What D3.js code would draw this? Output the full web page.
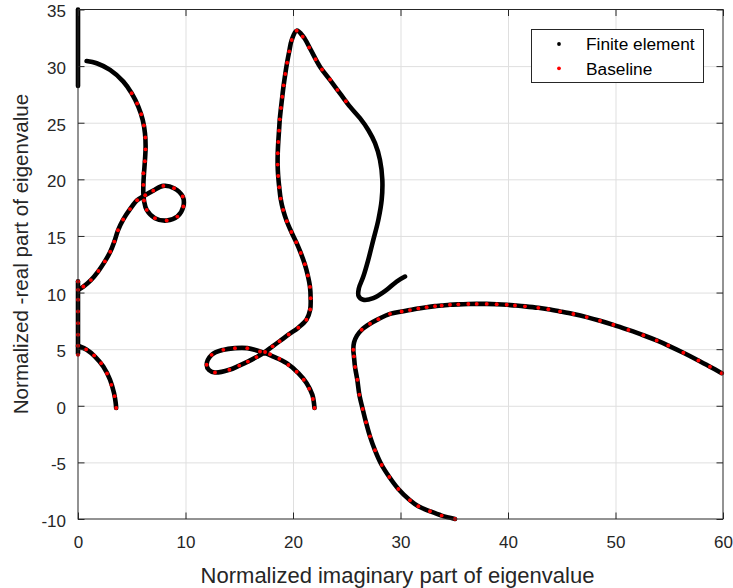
<!DOCTYPE html>
<html>
<head>
<meta charset="utf-8">
<script src="https://cdn.jsdelivr.net/npm/d3@7"></script>
<style>
  html, body { margin: 0; padding: 0; background: #fff; }
  svg { display: block; font-family: "Liberation Sans", Arial, Helvetica, sans-serif; }
</style>
</head>
<body>
<svg id="chart" width="733" height="588"></svg>
<script>
// Axis ticks
const xTicks = [0, 10, 20, 30, 40, 50, 60];
const yTicks = [-10, -5, 0, 5, 10, 15, 20, 25, 30, 35];

// Finite element eigenvalue loci, [imaginary, -real] (normalized)
const feAxisUpper = [[0, 28.25], [0, 35.0]];
const feAxisMiddle = [[0, 11.0], [0, 4.6]];
const feLeftLoop = [
  [0.8, 30.45], [1.74, 30.25], [2.98, 29.66], [4.22, 28.63], [4.99, 27.6], [5.61, 26.42],
  [6.02, 25.25], [6.23, 24.07], [6.29, 22.89], [6.23, 21.72], [6.14, 20.54], [6.08, 19.51],
  [6.08, 18.7], [6.14, 18.13], [6.39, 17.3], [7.16, 16.57], [8.25, 16.36], [9.24, 16.71],
  [9.8, 17.6], [9.74, 18.48], [8.93, 19.22], [7.94, 19.42], [7.0, 19.0], [6.25, 18.6],
  [5.5, 18.15], [4.84, 17.37], [4.2, 16.45], [3.72, 15.5], [3.38, 14.5], [3.0, 13.6],
  [2.5, 12.75], [1.9, 11.9], [1.2, 11.1], [0.5, 10.53], [0.03, 10.25]
];
const feLeftLower = [
  [0.0, 5.3], [0.81, 4.95], [1.58, 4.35], [2.35, 3.47], [2.98, 2.3], [3.35, 1.12], [3.5, 0.3], [3.55, -0.2]
];
const feCentral = [
  [30.42, 11.41], [29.64, 10.97], [28.71, 10.24], [27.47, 9.51], [26.54, 9.36], [26.1, 9.7],
  [26.12, 10.35], [26.54, 11.41], [27.0, 12.89], [27.47, 14.65], [27.94, 16.42], [28.25, 18.19],
  [28.31, 19.95], [28.09, 21.72], [27.63, 23.19], [27.0, 24.36], [26.23, 25.4], [25.3, 26.42],
  [24.37, 27.6], [23.44, 28.78], [22.51, 29.95], [21.58, 31.57], [20.96, 32.6], [20.34, 33.13],
  [19.88, 32.3], [19.65, 31.3], [19.45, 30.3], [19.28, 29.3], [19.13, 28.3], [19.0, 27.3],
  [18.88, 26.3], [18.77, 25.3], [18.7, 24.3], [18.63, 23.3], [18.58, 22.3], [18.57, 21.3],
  [18.62, 20.3], [18.72, 19.3], [18.85, 18.3], [19.08, 17.3], [19.42, 16.3], [19.85, 15.35],
  [20.3, 14.45], [20.72, 13.5], [21.1, 12.5], [21.38, 11.5], [21.58, 10.5], [21.64, 9.5],
  [21.6, 8.5], [21.25, 7.6], [20.5, 6.9], [19.6, 6.3], [18.75, 5.7], [18.1, 5.25],
  [17.4, 4.75], [16.6, 4.3], [15.8, 3.9], [15.0, 3.55], [14.08, 3.18], [12.74, 2.94],
  [12.2, 3.15], [11.97, 3.62], [12.43, 4.5], [13.52, 4.94], [14.6, 5.09], [15.75, 5.09],
  [16.93, 4.8], [18.17, 4.35], [19.41, 3.77], [20.5, 2.89], [21.27, 2.0], [21.8, 0.97],
  [22.0, -0.2]
];
const feRight = [
  [35.07, -9.99], [33.83, -9.7], [32.74, -9.32], [31.66, -8.88], [30.88, -8.35], [29.8, -7.35],
  [28.96, -6.29], [28.25, -5.23], [27.63, -3.93], [27.16, -2.7], [26.79, -1.46], [26.48, -0.29],
  [26.17, 0.98], [25.98, 2.3], [25.77, 3.42], [25.67, 4.36], [25.61, 4.95], [25.68, 5.6],
  [25.95, 6.2], [26.39, 6.71], [27.16, 7.24], [27.94, 7.65], [29.02, 8.12], [30.11, 8.33],
  [30.88, 8.45], [31.66, 8.6], [32.43, 8.71], [33.21, 8.8], [33.83, 8.85], [34.6, 8.92],
  [35.38, 8.96], [36.31, 8.99], [37.09, 9.0], [38.02, 9.0], [38.95, 8.97], [39.88, 8.92],
  [40.65, 8.86], [41.58, 8.78], [42.82, 8.65], [43.75, 8.52], [44.84, 8.33], [46.08, 8.1],
  [47.32, 7.83], [48.56, 7.51], [49.8, 7.15], [51.2, 6.7], [52.59, 6.23], [53.83, 5.77],
  [54.91, 5.32], [56.31, 4.68], [57.71, 4.0], [58.79, 3.45], [59.88, 2.88]
];

// Baseline eigenvalues, [imaginary, -real] (normalized)
const blLeftLoop = [
  [4.99, 27.6], [5.5, 26.7], [5.88, 25.75], [6.13, 24.75], [6.26, 23.7], [6.28, 22.65],
  [6.22, 21.6], [6.08, 20.54], [6.08, 19.51], [6.14, 18.13], [6.39, 17.3], [7.16, 16.57],
  [8.25, 16.36], [9.24, 16.71], [9.8, 17.6], [9.74, 18.48], [8.93, 19.22], [7.94, 19.42],
  [7.0, 19.0], [6.25, 18.6], [5.5, 18.15], [4.84, 17.37], [4.2, 16.45], [3.72, 15.5],
  [3.38, 14.5], [3.0, 13.6], [2.5, 12.75], [1.9, 11.9], [1.2, 11.1], [0.5, 10.53]
];
const blAxis = [[0, 10.97], [0, 10.24], [0, 9.36], [0, 8.33], [0, 7.3], [0, 6.27], [0, 5.3], [0, 4.5]];
const blLeftLower = [[0.75, 4.98], [1.5, 4.45], [2.15, 3.75], [2.7, 2.85], [3.1, 1.85], [3.4, 0.85], [3.55, -0.2]];
const blCentral = [
  [24.92, 26.9], [24.13, 27.9], [23.45, 28.82], [22.7, 29.7], [22.1, 30.6], [21.5, 31.65],
  [20.9, 32.6], [20.34, 33.13],
  [19.88, 32.3], [19.65, 31.3], [19.45, 30.3], [19.28, 29.3], [19.13, 28.3], [19.0, 27.3],
  [18.88, 26.3], [18.77, 25.3], [18.7, 24.3], [18.63, 23.3], [18.58, 22.3], [18.57, 21.3],
  [18.62, 20.3], [18.72, 19.3], [18.85, 18.3], [19.08, 17.3], [19.42, 16.3], [19.85, 15.35],
  [20.3, 14.45], [20.72, 13.5], [21.1, 12.5], [21.38, 11.5], [21.58, 10.5], [21.64, 9.5],
  [21.6, 8.5], [21.25, 7.6], [20.5, 6.9], [19.6, 6.3], [18.75, 5.7], [18.1, 5.25],
  [17.4, 4.75], [16.6, 4.3], [15.8, 3.9], [15.0, 3.55], [14.08, 3.18], [12.74, 2.94],
  [11.97, 3.62], [12.43, 4.5], [13.52, 4.94], [14.6, 5.09], [15.75, 5.09], [16.93, 4.8],
  [17.86, 4.55], [18.73, 4.15], [19.57, 3.6], [20.34, 3.0], [21.0, 2.3], [21.5, 1.5],
  [21.85, 0.6], [22.0, -0.2]
];
const blRight = [
  [35.07, -9.99], [33.83, -9.7], [32.74, -9.32], [31.66, -8.88], [30.88, -8.35], [29.8, -7.35],
  [28.96, -6.29], [28.25, -5.23], [27.63, -3.93], [27.16, -2.7], [26.79, -1.46], [26.48, -0.29],
  [26.17, 0.98], [25.98, 2.3], [25.77, 3.42], [25.67, 4.36], [25.61, 4.95],
  [26.39, 6.71], [27.16, 7.24], [27.94, 7.65], [29.02, 8.12], [30.11, 8.33],
  [30.88, 8.45], [31.66, 8.6], [32.43, 8.71], [33.21, 8.8], [33.83, 8.85], [34.6, 8.92],
  [35.38, 8.96], [36.31, 8.99], [37.09, 9.0], [38.02, 9.0], [38.95, 8.97], [39.88, 8.92],
  [40.65, 8.86], [41.58, 8.78], [42.82, 8.65], [43.75, 8.52], [44.84, 8.33], [46.08, 8.1],
  [47.32, 7.83], [48.56, 7.51], [49.8, 7.15], [51.2, 6.7], [52.59, 6.23], [53.83, 5.77],
  [54.91, 5.32], [56.31, 4.68], [57.71, 4.0], [58.79, 3.45], [59.88, 2.88]
];

const seriesNames = ["Finite element", "Baseline"];
const xLabel = "Normalized imaginary part of eigenvalue";
const yLabel = "Normalized -real part of eigenvalue";

const feBranches = [feAxisUpper, feAxisMiddle, feLeftLoop, feLeftLower, feCentral, feRight];
const blBranches = [blLeftLoop, blAxis, blLeftLower, blCentral, blRight];

const INK = "#262626";
const GRID = "#dfdfdf";
const plot = { left: 78, right: 723, top: 9.5, bottom: 519 };
const plotH = plot.bottom - plot.top;
const plotW = plot.right - plot.left;

const x = d3.scaleLinear().domain([0, 60]).range([plot.left, plot.right]);
const y = d3.scaleLinear().domain([-10, 35]).range([plot.bottom, plot.top]);

const svg = d3.select("#chart");

// grid lines
svg.append("g")
  .attr("transform", `translate(0,${plot.bottom})`)
  .call(d3.axisBottom(x).tickValues(xTicks.slice(1, -1)).tickSize(-plotH).tickFormat(""))
  .call(g => g.select(".domain").remove())
  .call(g => g.selectAll("line").attr("stroke", GRID).attr("stroke-width", 1));
svg.append("g")
  .attr("transform", `translate(${plot.left},0)`)
  .call(d3.axisLeft(y).tickValues(yTicks.slice(1, -1)).tickSize(-plotW).tickFormat(""))
  .call(g => g.select(".domain").remove())
  .call(g => g.selectAll("line").attr("stroke", GRID).attr("stroke-width", 1));

// finite element loci (dense markers rendered as a thick trace)
const trace = d3.line()
  .x(d => x(d[0]))
  .y(d => y(d[1]))
  .curve(d3.curveCatmullRom.alpha(0.5));
svg.append("g")
  .selectAll("path")
  .data(feBranches)
  .join("path")
  .attr("d", trace)
  .attr("fill", "none")
  .attr("stroke", "#000")
  .attr("stroke-width", 4.6)
  .attr("stroke-linecap", "round")
  .attr("stroke-linejoin", "round");

// baseline markers
svg.append("g")
  .selectAll("circle")
  .data(blBranches.flat())
  .join("circle")
  .attr("cx", d => x(d[0]))
  .attr("cy", d => y(d[1]))
  .attr("r", 1.95)
  .attr("fill", "#ff0000");

// axes box with inward ticks on all sides
const tickLen = 6.5;
const plain = d => String(d);
function styleAxis(g) {
  g.select(".domain").remove();
  g.selectAll(".tick line").attr("stroke", INK).attr("stroke-width", 1);
  g.selectAll(".tick text").attr("fill", INK).attr("font-size", 17)
    .attr("font-family", "'Liberation Sans', Arial, Helvetica, sans-serif");
}
svg.append("g")
  .attr("transform", `translate(0,${plot.bottom})`)
  .call(d3.axisBottom(x).tickValues(xTicks).tickFormat(plain).tickSizeInner(-tickLen).tickSizeOuter(0).tickPadding(17))
  .call(styleAxis);
svg.append("g")
  .attr("transform", `translate(0,${plot.top})`)
  .call(d3.axisTop(x).tickValues(xTicks).tickSizeInner(-tickLen).tickSizeOuter(0).tickFormat(""))
  .call(styleAxis);
svg.append("g")
  .attr("transform", `translate(${plot.left},0)`)
  .call(d3.axisLeft(y).tickValues(yTicks).tickFormat(plain).tickSizeInner(-tickLen).tickSizeOuter(0).tickPadding(12))
  .call(styleAxis)
  .call(g => g.selectAll(".tick text").attr("dy", "0.44em"));
svg.append("g")
  .attr("transform", `translate(${plot.right},0)`)
  .call(d3.axisRight(y).tickValues(yTicks).tickSizeInner(-tickLen).tickSizeOuter(0).tickFormat(""))
  .call(styleAxis);
svg.append("rect")
  .attr("x", plot.left).attr("y", plot.top)
  .attr("width", plotW).attr("height", plotH)
  .attr("fill", "none").attr("stroke", INK).attr("stroke-width", 1);

// axis titles
svg.append("text")
  .attr("x", (plot.left + plot.right) / 2 - 3)
  .attr("y", 583)
  .attr("text-anchor", "middle")
  .attr("font-size", 22)
  .attr("fill", INK)
  .text(xLabel);
svg.append("text")
  .attr("transform", `translate(28,254) rotate(-90)`)
  .attr("text-anchor", "middle")
  .attr("font-size", 20.6)
  .attr("fill", INK)
  .text(yLabel);

// legend
const legend = svg.append("g");
legend.append("rect")
  .attr("x", 531.5).attr("y", 29.5)
  .attr("width", 172).attr("height", 53)
  .attr("fill", "#fff").attr("stroke", INK).attr("stroke-width", 1);
const legendColors = ["#000", "#ff0000"];
const legendRows = legend.selectAll("g.row")
  .data(seriesNames)
  .join("g")
  .attr("class", "row")
  .attr("transform", (d, i) => `translate(0,${44 + i * 24.3})`);
legendRows.append("circle")
  .attr("cx", 559).attr("cy", 0).attr("r", 1.9)
  .attr("fill", (d, i) => legendColors[i]);
legendRows.append("text")
  .attr("x", 586).attr("y", 6.2)
  .attr("font-size", 17.3)
  .attr("fill", "#000")
  .text(d => d);
</script>
</body>
</html>
